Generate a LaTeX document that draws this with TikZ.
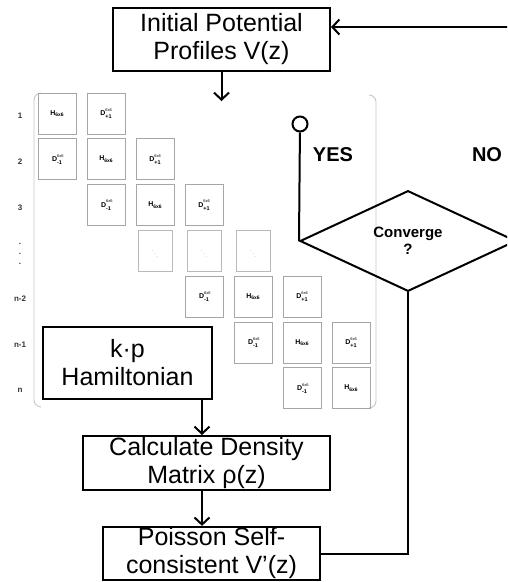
\documentclass[tikz,border=0pt]{standalone}
\usepackage{fontspec}
\setmainfont{Liberation Sans}
\usetikzlibrary{shapes.geometric, positioning, arrows.meta}
% block entries of the matrix
\newcommand{\Hsix}{H\raisebox{-1.5pt}{\fontsize{5}{5}\selectfont 6x6}}
\newcommand{\Dsix}[1]{D\rlap{\raisebox{4.5pt}{\fontsize{4}{4}\selectfont\mdseries 6x6}}\raisebox{-2.8pt}{\fontsize{5.5}{5}\selectfont #1}}
\newcommand{\Dup}{\Dsix{+1}}
\newcommand{\Ddn}{\Dsix{-1}}

\begin{document}
\begin{tikzpicture}[x=1pt, y=-1pt,
      flow/.style={draw, line width=2pt, fill=white, align=center, inner sep=1pt,
                   font=\fontsize{25}{28}\selectfont},
      decide/.style={diamond, draw, line width=2pt, minimum width=216pt, minimum height=64pt,
                     inner sep=1pt, align=center, font=\fontsize{15}{17}\selectfont\bfseries},
      cell/.style={draw=gray!70, line width=0.9pt, minimum width=38pt, minimum height=41pt,
                   inner sep=0pt, font=\fontsize{7}{8}\selectfont\bfseries},
      blank/.style={cell, draw=gray!55, minimum width=34pt},
      rowlbl/.style={font=\fontsize{8}{9}\selectfont\bfseries, text=black!80},
      lbl/.style={font=\fontsize{20}{22}\selectfont\bfseries},
      link/.style={line width=2pt},
      arr/.style={link, -{Straight Barb[length=7pt, width=15pt]}},
      bracket/.style={draw=gray!45, line width=0.9pt, rounded corners=7pt}
    ]
    \useasboundingbox (0,0) rectangle (507,582);
    \clip (0,0) rectangle (507,582);

    % Matrix
    \draw[bracket] (41,93) -- (34,93) -- (34,407) -- (41,407);
    \draw[bracket] (369,95) -- (376,95) -- (376,408) -- (369,408);
    \foreach \r/\c/\t in {1/1/\Hsix, 1/2/\Dup,
                          2/1/\Ddn, 2/2/\Hsix, 2/3/\Dup,
                          3/2/\Ddn, 3/3/\Hsix, 3/4/\Dup,
                          5/4/\Ddn, 5/5/\Hsix, 5/6/\Dup,
                          6/5/\Ddn, 6/6/\Hsix, 6/7/\Dup,
                          7/6/\Ddn, 7/7/\Hsix}
      \node[cell] (m-\r-\c) at ({57+49*(\c-1)}, {113.5+45.8*(\r-1)}) {\t};
    \foreach \c in {3,4,5}
      \node[blank] (m-4-\c) at ({57+49*(\c-1)}, 251) {\color{gray!50}\tiny$\ddots$};

    % Row labels
    \foreach \r/\t in {1/1, 2/2, 3/3, 5/n-2, 6/n-1, 7/n}
      \node[rowlbl] (row-\r) at (20, {116+45.8*(\r-1)}) {\t};
    \foreach \y in {244,254,264}
      \node[rowlbl] at (20,\y) {.};

    % Boxes
    \node[flow, minimum width=217pt, minimum height=63pt] (init) at (221.5,39.5)
        {Initial Potential\\Profiles V(z)};
    \node[flow, minimum width=169pt, minimum height=72pt] (kp) at (127.5,363)
        {k·p\\Hamiltonian};
    \node[flow, minimum width=247pt, minimum height=54pt] (dens) at (206.5,463)
        {Calculate Density\\Matrix ρ(z)};
    \node[flow, minimum width=217pt, minimum height=53pt] (pois) at (211.5,553.5)
        {Poisson Self-\\consistent V’(z)};
    \node[decide] (conv) at (408,241) {Converge\\?};
    \node[circle, draw, line width=2pt, minimum size=15pt, inner sep=0pt] (stop) at (300,124) {};

    \node[lbl] (yes) at (333,155) {YES};
    \node[lbl] (no)  at (487,155) {NO};

    % Connectors
    \coordinate (noin) at (515,27);
    \coordinate (mtop) at (221.5,101);
    \coordinate (xa) at (202,0);
    \draw[arr] (noin) -- (noin -| init.east);
    \draw[arr] (init.south) -- (mtop);
    \draw[arr] (kp.south -| xa) -- (dens.north -| xa);
    \draw[arr] (dens.south -| xa) -- (pois.north -| xa);
    \draw[link] (pois.east) -| (conv.south);
    \draw[link] (stop) -- (conv.west);
  \end{tikzpicture}
\end{document}
